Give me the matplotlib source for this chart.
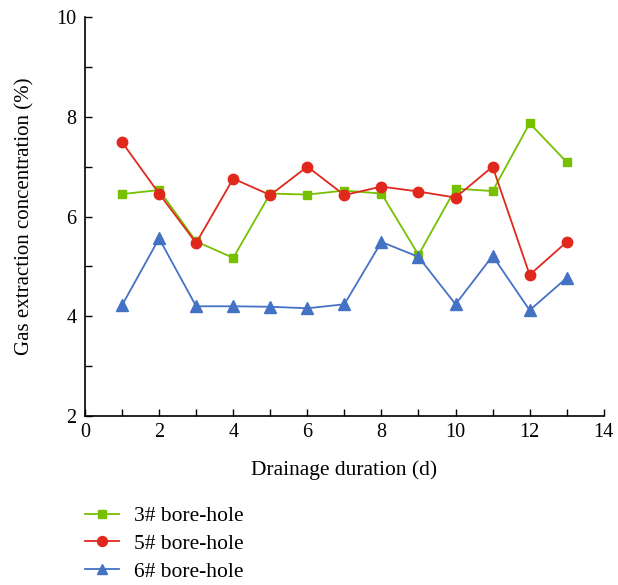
import numpy as np
import matplotlib
matplotlib.use('Agg')
from matplotlib import pyplot as plt

plt.rcParams['font.family'] = ['Liberation Serif', 'DejaVu Serif']

days = [1, 2, 3, 4, 5, 6, 7, 8, 9, 10, 11, 12, 13]
hole3 = [6.45, 6.53, 5.5, 5.17, 6.46, 6.44, 6.52, 6.46, 5.23, 6.56, 6.51, 7.87, 7.09]
hole5 = [7.49, 6.46, 5.47, 6.76, 6.43, 7.0, 6.43, 6.6, 6.5, 6.38, 7.0, 4.83, 5.49]
hole6 = [4.22, 5.56, 4.2, 4.2, 4.19, 4.16, 4.24, 5.49, 5.19, 4.24, 5.21, 4.12, 4.77]
labels = ['3# bore-hole', '5# bore-hole', '6# bore-hole']

fig = plt.figure(figsize=(6.18, 5.85), dpi=100)
ax = fig.add_axes([0.1375, 0.2889, 0.8395, 0.682])

l1, = ax.plot(days, hole3, color='#77c000', lw=1.3, marker='s', ms=6, mec='#77c000')
l2, = ax.plot(days, hole5, color='#e0281c', lw=1.3, marker='o', ms=7.5, mec='#e0281c')
l3, = ax.plot(days, hole6, color='#4472c4', lw=1.3, marker='^', ms=8, mec='#4472c4')

ax.set_xlim(0, 14)
ax.set_ylim(2, 10)
ax.set_xticks(range(0, 15, 2))
ax.set_xticks(range(1, 14, 2), minor=True)
ax.set_yticks(range(2, 11, 2))
ax.set_yticks(range(3, 10, 2), minor=True)
ax.tick_params(which='both', direction='in', length=5, width=1, labelsize=14.5, color='black')
ax.tick_params(axis='x', pad=5)
ax.tick_params(axis='y', pad=6)
for s in ['top', 'right']:
    ax.spines[s].set_visible(False)
for s in ['left', 'bottom']:
    ax.spines[s].set_linewidth(1.2)

ax.set_xlabel('Drainage duration (d)', fontsize=15.5, labelpad=13)
ax.set_ylabel('Gas extraction concentration (%)', fontsize=15, labelpad=16)

fig.legend([l1, l2, l3], labels, loc='upper left', bbox_to_anchor=(0.1375, 0.135),
           frameon=False, fontsize=15.5, handlelength=1.6, handletextpad=0.7,
           labelspacing=0.36, borderaxespad=0, borderpad=0, markerscale=0.95)

fig.savefig('out.png', dpi=100)
